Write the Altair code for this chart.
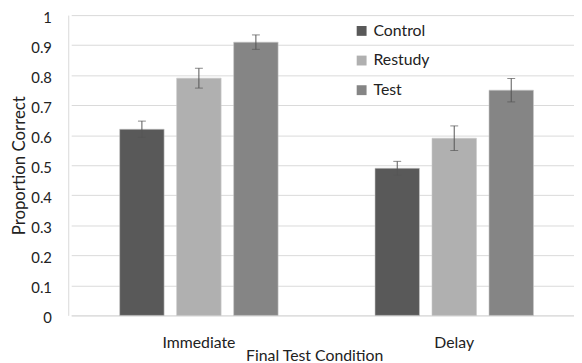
import altair as alt
import pandas as pd

conditions = ["Immediate", "Immediate", "Immediate", "Delay", "Delay", "Delay"]
groups = ["Control", "Restudy", "Test", "Control", "Restudy", "Test"]
values = [0.62, 0.79, 0.91, 0.49, 0.59, 0.75]
errors = [0.027, 0.033, 0.024, 0.023, 0.041, 0.039]
y_ticks = [0, 0.1, 0.2, 0.3, 0.4, 0.5, 0.6, 0.7, 0.8, 0.9, 1]

df = pd.DataFrame({"cond": conditions, "group": groups, "val": values, "err": errors})
df["lo"] = df["val"] - df["err"]
df["hi"] = df["val"] + df["err"]

FONT = "Lato"
cond_order = ["Immediate", "Delay"]
group_order = ["Control", "Restudy", "Test"]
colors = ["#595959", "#b0b0b0", "#858585"]

x = alt.X("cond:N", sort=cond_order,
          scale=alt.Scale(paddingInner=0, paddingOuter=0, range=[3, 520]),
          axis=alt.Axis(title="Final Test Condition", labelAngle=0, labelFontSize=16,
                        titleFontSize=16, titleFontWeight="normal", labelPadding=20,
                        titlePadding=-3, titleX=249, tickSize=0, domainColor="#d9d9d9",
                        labelColor="#222", titleColor="#222", labelFont=FONT, titleFont=FONT))
xo = alt.XOffset("group:N", sort=group_order,
                 scale=alt.Scale(paddingInner=0.22, paddingOuter=0.85))

y_axis = alt.Axis(title="Proportion Correct", values=y_ticks, tickCount=20, labelOverlap=False,
                  format=".1~f", labelFontSize=15, titleFontSize=17,
                  titleFontWeight="normal", tickSize=0, labelPadding=17, labelOffset=2,
                  domain=True, domainColor="#d9d9d9", gridColor="#d9d9d9", titlePadding=2,
                  labelColor="#222", titleColor="#222", labelFont=FONT, titleFont=FONT)
y_scale = alt.Scale(domain=[0, 1])

bars = alt.Chart(df).mark_bar(stroke="#c8c8c8", strokeWidth=0.6).encode(
    x=x,
    xOffset=xo,
    y=alt.Y("val:Q", scale=y_scale, axis=y_axis),
    color=alt.Color("group:N", sort=group_order,
                    scale=alt.Scale(domain=group_order, range=colors),
                    legend=alt.Legend(title=None, orient="none", legendX=289, legendY=8,
                                      symbolType="square", symbolSize=100, symbolStrokeWidth=0,
                                      labelFontSize=16, labelFont=FONT, labelColor="#222",
                                      rowPadding=14, labelOffset=4)),
)

rules = alt.Chart(df).mark_rule(color="#555", strokeWidth=1).encode(
    x=x, xOffset=xo, y=alt.Y("lo:Q", scale=y_scale, axis=y_axis), y2="hi:Q")
cap_hi = alt.Chart(df).mark_tick(color="#555", thickness=1, size=8).encode(
    x=x, xOffset=xo, y=alt.Y("hi:Q", scale=y_scale, axis=y_axis))
cap_lo = alt.Chart(df).mark_tick(color="#555", thickness=1, size=8).encode(
    x=x, xOffset=xo, y=alt.Y("lo:Q", scale=y_scale, axis=y_axis))

chart = alt.layer(bars, rules, cap_hi, cap_lo).properties(
    width=512, height=304,
    autosize=alt.AutoSizeParams(type="none"),
    padding={"left": 61, "top": 5, "right": 0, "bottom": 46},
).configure_view(stroke=None)

chart.save("out.html", embed_options={"renderer": "svg", "actions": False})
